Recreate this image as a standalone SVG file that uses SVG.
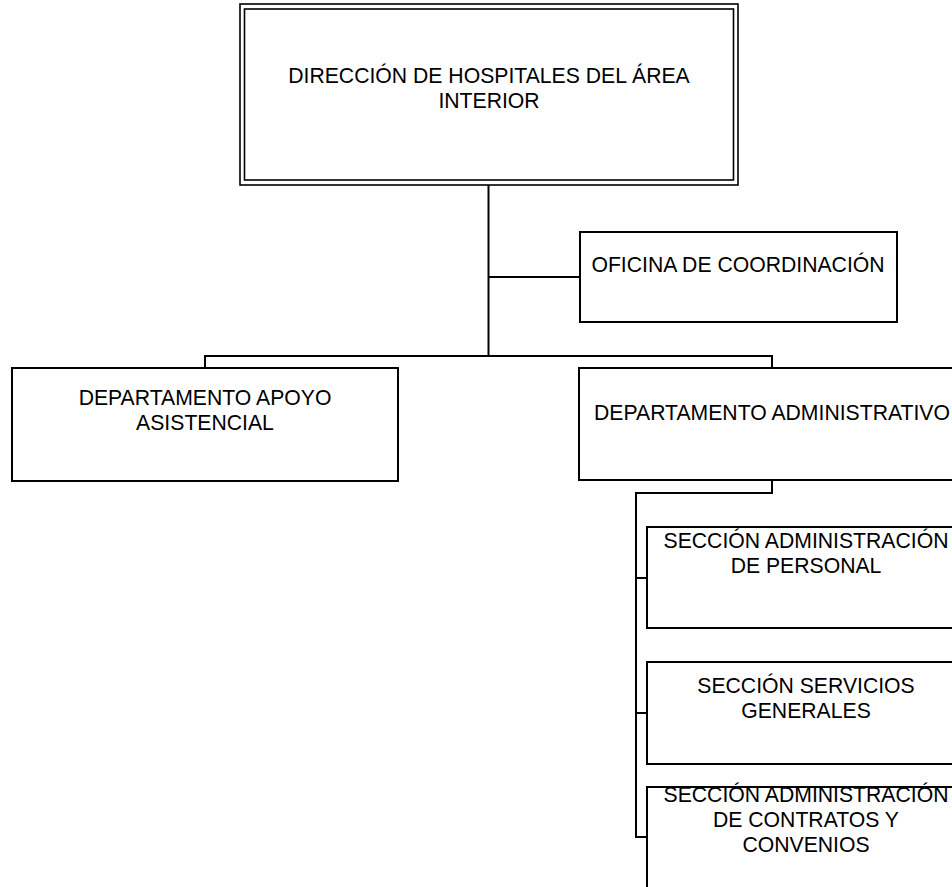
<svg xmlns="http://www.w3.org/2000/svg" width="952" height="887" viewBox="0 0 952 887">
<style>
.box{fill:#fff;stroke:#000;stroke-width:2}
.thin{fill:none;stroke:#000;stroke-width:1.6}
.con{fill:none;stroke:#000;stroke-width:2}
text{font-family:"Liberation Sans",Arial,sans-serif;font-size:21.2px;fill:#000;text-anchor:middle}
</style>
<rect width="952" height="887" fill="#fff"/>
<g id="connectors">
<line class="con" x1="488.5" y1="185" x2="488.5" y2="356"/>
<line class="con" x1="488.5" y1="277" x2="580" y2="277"/>
<polyline class="con" points="205,368 205,356 772,356 772,368"/>
<polyline class="con" points="772,480 772,493 636,493 636,838"/>
<line class="con" x1="636" y1="578" x2="647" y2="578"/>
<line class="con" x1="636" y1="713" x2="647" y2="713"/>
<line class="con" x1="636" y1="837" x2="647" y2="837"/>
</g>
<g id="direccion">
<rect class="thin" x="240" y="4" width="498" height="181"/>
<rect class="thin" x="244.5" y="9" width="489" height="171"/>
<text x="489" y="83">DIRECCIÓN DE HOSPITALES DEL ÁREA</text>
<text x="489" y="108">INTERIOR</text>
</g>
<g id="oficina">
<rect class="box" x="580" y="232" width="317" height="90"/>
<text x="738" y="272">OFICINA DE COORDINACIÓN</text>
</g>
<g id="dep-apoyo">
<rect class="box" x="12" y="368" width="386" height="113"/>
<text x="205" y="405">DEPARTAMENTO APOYO</text>
<text x="205" y="430">ASISTENCIAL</text>
</g>
<g id="dep-admin">
<rect class="box" x="579" y="368" width="386" height="112"/>
<text x="772" y="420">DEPARTAMENTO ADMINISTRATIVO</text>
</g>
<g id="sec-personal">
<rect class="box" x="647" y="527" width="318" height="101"/>
<text x="806" y="548">SECCIÓN ADMINISTRACIÓN</text>
<text x="806" y="573">DE PERSONAL</text>
</g>
<g id="sec-servicios">
<rect class="box" x="647" y="662" width="318" height="102"/>
<text x="806" y="693">SECCIÓN SERVICIOS</text>
<text x="806" y="718">GENERALES</text>
</g>
<g id="sec-contratos">
<rect class="box" x="647" y="787" width="318" height="102"/>
<text x="806" y="802">SECCIÓN ADMINISTRACIÓN</text>
<text x="806" y="827">DE CONTRATOS Y</text>
<text x="806" y="852">CONVENIOS</text>
</g>
</svg>
